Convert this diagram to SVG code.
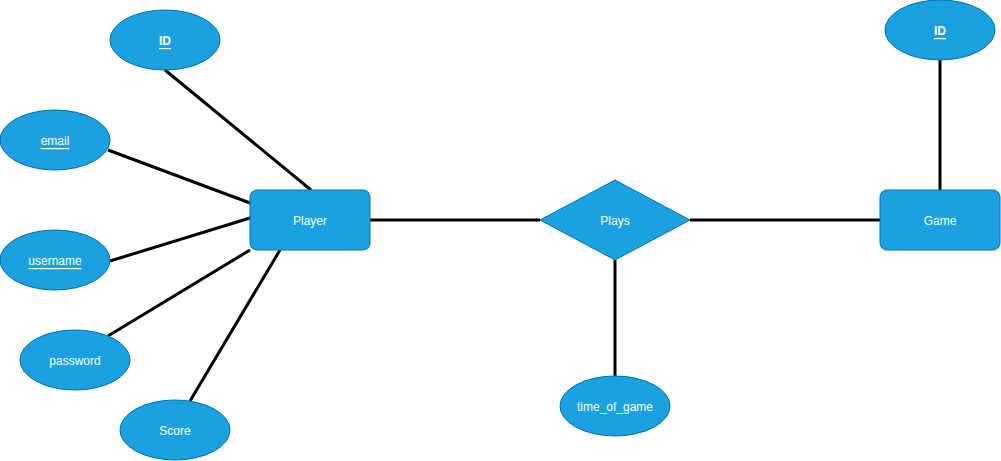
<svg xmlns="http://www.w3.org/2000/svg" width="1001" height="461" viewBox="0 0 1001 461">
  <style>
    .shape { fill: #1ba1e2; stroke: #006eaf; stroke-width: 1; }
    .label { fill: #ffffff; font-family: "Liberation Sans", Arial, sans-serif; font-size: 12px; text-anchor: middle; dominant-baseline: central; }
    .key { text-decoration: underline; }
    .bold { font-weight: bold; }
    .edge { stroke: #000000; stroke-width: 3; fill: none; }
  </style>
  <rect width="1001" height="461" fill="#ffffff"/>
  <g id="connectors">
    <line class="edge" x1="165" y1="70" x2="311" y2="190"/>
    <line class="edge" x1="108" y1="150" x2="250" y2="203"/>
    <line class="edge" x1="110" y1="261" x2="250" y2="218"/>
    <line class="edge" x1="108" y1="336" x2="250" y2="250"/>
    <line class="edge" x1="190" y1="401" x2="280" y2="250"/>
    <line class="edge" x1="370" y1="220" x2="540" y2="220"/>
    <line class="edge" x1="690" y1="220" x2="880" y2="220"/>
    <line class="edge" x1="615" y1="260" x2="615" y2="377"/>
    <line class="edge" x1="940" y1="60" x2="940" y2="190"/>
  </g>
  <g id="player-id">
    <ellipse class="shape" cx="165" cy="40" rx="55" ry="30"/>
    <text class="label key bold" x="165" y="41">ID</text>
  </g>
  <g id="email">
    <ellipse class="shape" cx="55" cy="140" rx="55" ry="30"/>
    <text class="label key" x="55" y="141">email</text>
  </g>
  <g id="username">
    <ellipse class="shape" cx="55" cy="260" rx="55" ry="30"/>
    <text class="label key" x="55" y="261">username</text>
  </g>
  <g id="password">
    <ellipse class="shape" cx="75" cy="360" rx="55" ry="30"/>
    <text class="label" x="75" y="361">password</text>
  </g>
  <g id="score">
    <ellipse class="shape" cx="175" cy="430" rx="55" ry="30"/>
    <text class="label" x="175" y="431">Score</text>
  </g>
  <g id="player">
    <rect class="shape" x="250" y="190" width="120" height="60" rx="7" ry="7"/>
    <text class="label" x="310" y="221">Player</text>
  </g>
  <g id="plays">
    <polygon class="shape" points="615,180 690,220 615,260 540,220"/>
    <text class="label" x="615" y="221">Plays</text>
  </g>
  <g id="time-of-game">
    <ellipse class="shape" cx="615" cy="406" rx="55" ry="30"/>
    <text class="label" x="615" y="407">time_of_game</text>
  </g>
  <g id="game">
    <rect class="shape" x="880" y="190" width="120" height="60" rx="7" ry="7"/>
    <text class="label" x="940" y="221">Game</text>
  </g>
  <g id="game-id">
    <ellipse class="shape" cx="940" cy="30" rx="55" ry="30"/>
    <text class="label key bold" x="940" y="31">ID</text>
  </g>
</svg>
